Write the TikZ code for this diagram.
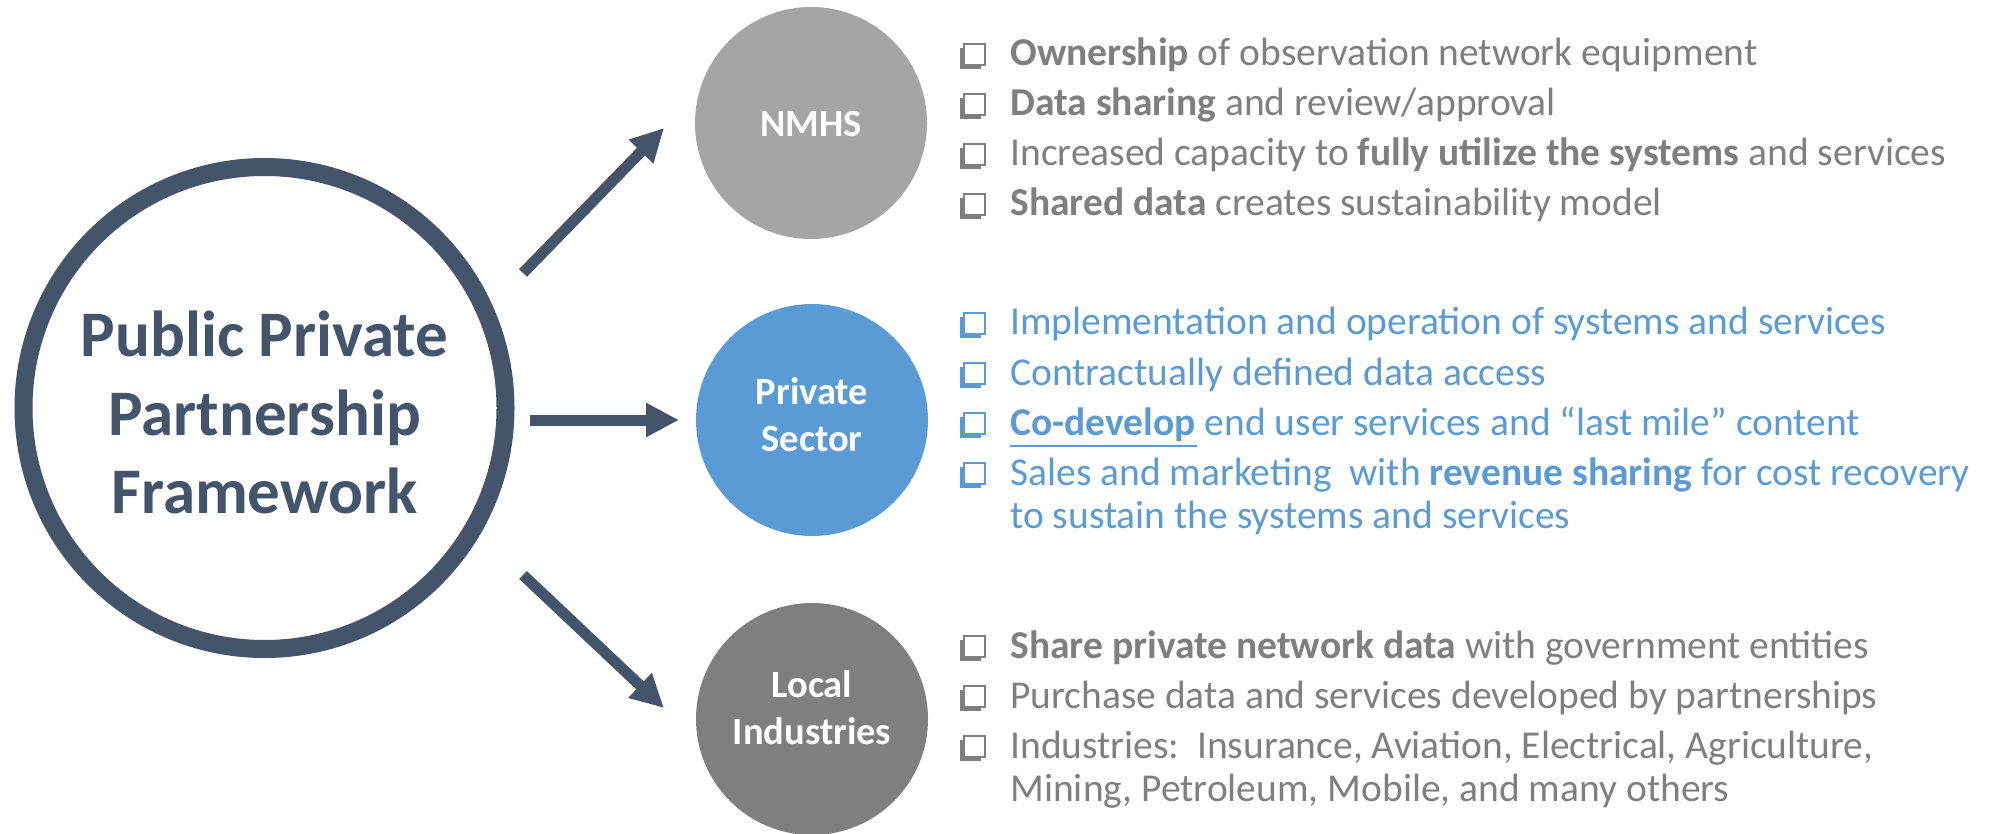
\documentclass[tikz,border=0pt]{standalone}
\usepackage{fontspec}
\setmainfont{Carlito}
\usetikzlibrary{arrows.meta}
\definecolor{slate}{HTML}{44546A}
\definecolor{nmhsgray}{HTML}{A5A5A5}
\definecolor{localgray}{HTML}{7F7F7F}
\definecolor{skyblue}{HTML}{5B9BD5}
\definecolor{txtgray}{HTML}{7F7F7F}
\newcommand\chkbox[2]{%
  \begin{scope}[shift={(964,#1)}]
    \fill[#2] (-4,-18) rectangle (17,3);
    \filldraw[fill=white,draw=#2,line width=1.25pt] (0,-22) rectangle (21,-1);
  \end{scope}}
\begin{document}
\begin{tikzpicture}[x=0.5pt,y=-0.5pt,
  bigc/.style={circle, draw=slate, line width=9pt, minimum size=241pt, inner sep=0pt},
  smallc/.style={circle, minimum size=116pt, inner sep=0pt, draw=none},
  ctext/.style={text=white, font=\fontsize{19.25pt}{23.5pt}\selectfont\bfseries, anchor=base, inner sep=0pt},
  mtext/.style={text=slate, font=\fontsize{32.5pt}{39pt}\selectfont\bfseries, anchor=base, inner sep=0pt},
  item/.style={font=\fontsize{19.75pt}{23pt}\selectfont, anchor=base west, inner sep=0pt},
  arr/.style={slate, line width=5.5pt, -{Triangle[length=16.5pt,width=16pt]}},
]
\useasboundingbox (0,0) rectangle (1991,834);

% main circle
\node[bigc] (ppp) at (264.5,408) {};
\node[mtext] (m1) at (264.5,356) {Public Private};
\node[mtext] (m2) at (264.5,435) {Partnership};
\node[mtext] (m3) at (264.5,513) {Framework};

% small circles
\node[smallc, fill=nmhsgray] (nmhs) at (811,123) {};
\node[ctext] (nmhst) at (811,137) {NMHS};
\node[smallc, fill=skyblue] (priv) at (812,420) {};
\node[ctext] (privt1) at (812,404) {Private};
\node[ctext] (privt2) at (812,451) {Sector};
\node[smallc, fill=localgray] (local) at (812,719) {};
\node[ctext] (localt1) at (812,697) {Local};
\node[ctext] (localt2) at (812,744) {Industries};

% arrows
\coordinate (a1s) at (523,273);
\coordinate (a1e) at (664,128);
\coordinate (a2s) at (530,420);
\coordinate (a2e) at (679,420);
\coordinate (a3s) at (523,575);
\coordinate (a3e) at (664,708);
\draw[arr] (a1s) -- (a1e);
\draw[arr] (a2s) -- (a2e);
\draw[arr] (a3s) -- (a3e);

% NMHS list
\chkbox{66}{txtgray}
\node[item, text=txtgray] (n1) at (1010,66) {\textbf{Ownership} of observation network equipment};
\chkbox{116}{txtgray}
\node[item, text=txtgray] (n2) at (1010,116) {\textbf{Data sharing} and review/approval};
\chkbox{166}{txtgray}
\node[item, text=txtgray] (n3) at (1010,166) {Increased capacity to \textbf{fully utilize the systems} and services};
\chkbox{216}{txtgray}
\node[item, text=txtgray] (n4) at (1010,216) {\textbf{Shared data} creates sustainability model};

% Private list
\chkbox{335}{skyblue}
\node[item, text=skyblue] (p1) at (1010,335) {Implementation and operation of systems and services};
\chkbox{385}{skyblue}
\node[item, text=skyblue] (p2) at (1010,385) {Contractually defined data access};
\chkbox{435}{skyblue}
\node[item, text=skyblue] (p3) at (1010,435) {\textbf{Co-develop} end user services and “last mile” content};
\draw[skyblue, line width=1.3pt] (p3.base west) ++(0,11) -- ++(187,0);
\chkbox{485}{skyblue}
\node[item, text=skyblue] (p4) at (1010,485) {Sales and marketing\ \ with \textbf{revenue sharing} for cost recovery};
\node[item, text=skyblue] (p4b) at (1010,528) {to sustain the systems and services};

% Local list
\chkbox{658}{txtgray}
\node[item, text=txtgray] (l1) at (1010,658) {\textbf{Share private network data} with government entities};
\chkbox{708}{txtgray}
\node[item, text=txtgray] (l2) at (1010,708) {Purchase data and services developed by partnerships};
\chkbox{758}{txtgray}
\node[item, text=txtgray] (l3) at (1010,758) {Industries:\ \ Insurance, Aviation, Electrical, Agriculture,};
\node[item, text=txtgray] (l3b) at (1010,801) {Mining, Petroleum, Mobile, and many others};
\end{tikzpicture}
\end{document}
